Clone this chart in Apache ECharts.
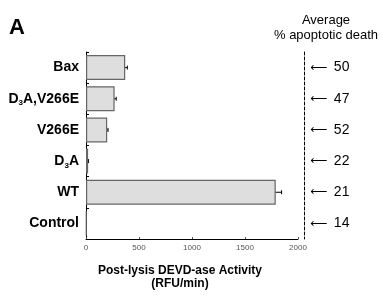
<!DOCTYPE html>
<html>
<head>
<meta charset="utf-8">
<script src="https://cdn.jsdelivr.net/npm/echarts@6/dist/echarts.min.js"></script>
<style>
  html, body { margin: 0; padding: 0; background: #fff; }
  #chart { width: 382px; height: 299px; }
</style>
</head>
<body>
<div id="chart"></div>
<script>
// data (top to bottom)
const groups = ["Bax", "D3A,V266E", "V266E", "D3A", "WT", "Control"];
const activity = [370, 270, 200, 20, 1790, 5];
const activityErr = [20, 15, 8, 3, 55, 0];
const apoptoticDeath = [50, 47, 52, 22, 21, 14];
const xTicks = [0, 500, 1000, 1500, 2000];

const chart = echarts.init(document.getElementById("chart"));

const options = {
    animation: false,
    title: {
        text: "A",
        left: 4, top: 12,
        textStyle: { fontFamily: "Liberation Sans", fontSize: 22, fontWeight: "bold", color: "#000" }
    },
    graphic: [
        {
            type: "text",
            x: 326, y: 13,
            style: {
                text: "Average\n% apoptotic death",
                align: "center",
                fontFamily: "Liberation Sans", fontSize: 13, lineHeight: 15, fill: "#000"
            }
        },
        {
            type: "text",
            x: 180, y: 264,
            style: {
                text: "Post-lysis DEVD-ase Activity\n(RFU/min)",
                align: "center",
                fontFamily: "Liberation Sans", fontSize: 12, fontWeight: "bold", lineHeight: 13, fill: "#000"
            }
        }
    ],
    grid: { left: 86, right: 84, top: 52, bottom: 60 },
    xAxis: {
        type: "value",
        min: xTicks[0], max: xTicks[xTicks.length - 1], interval: 500,
        axisLine: { show: true, lineStyle: { color: "#000", width: 1 } },
        axisTick: { show: true, inside: true, length: 2, lineStyle: { color: "#555" } },
        splitLine: { show: false },
        axisLabel: {
            fontFamily: "Liberation Sans", fontSize: 8, color: "#555", margin: 5,
            formatter: function (v) { return String(v); }
        }
    },
    yAxis: [
        {
            type: "category",
            data: groups,
            inverse: true,
            axisLine: { show: true, lineStyle: { color: "#000", width: 1 } },
            axisTick: { show: true, inside: true, length: 3, lineStyle: { color: "#000" } },
            axisLabel: {
                margin: 7,
                formatter: function (v) {
                    if (v === "D3A,V266E") return "{b|D}{s|3}{b|A,V266E}";
                    if (v === "D3A") return "{b|D}{s|3}{b|A}";
                    return "{b|" + v + "}";
                },
                rich: {
                    b: { fontFamily: "Liberation Sans", fontSize: 14, fontWeight: "bold", color: "#000" },
                    s: { fontFamily: "Liberation Sans", fontSize: 8, fontWeight: "bold", color: "#000", padding: [9, 0, 0, 0] }
                }
            }
        },
        {
            type: "category",
            data: apoptoticDeath.map(String),
            inverse: true,
            position: "right",
            offset: 6,
            axisLine: { show: true, lineStyle: { color: "#000", type: [3, 2], width: 1 } },
            axisTick: { show: false },
            axisLabel: {
                margin: 6,
                formatter: function (v) { return "{a|\u27F5}  {v|" + v + "}"; },
                rich: {
                    a: { fontFamily: "DejaVu Sans", fontSize: 12, color: "#000" },
                    v: { fontFamily: "Liberation Sans", fontSize: 14, color: "#000" }
                }
            }
        }
    ],
    series: [
        {
            type: "bar",
            data: activity,
            barWidth: "80%",
            itemStyle: { color: "#dedede", borderColor: "#666", borderWidth: 1.2 }
        },
        {
            type: "custom",
            data: activity.map(function (v, i) { return [v - activityErr[i], v + activityErr[i], i]; }),
            renderItem: function (params, api) {
                const lo = api.coord([api.value(0), api.value(2)]);
                const hi = api.coord([api.value(1), api.value(2)]);
                const c = { stroke: "#000", lineWidth: 1 };
                return {
                    type: "group",
                    children: [
                        { type: "line", shape: { x1: lo[0], y1: lo[1], x2: hi[0], y2: hi[1] }, style: c },
                        { type: "line", shape: { x1: lo[0], y1: lo[1] - 2, x2: lo[0], y2: lo[1] + 2 }, style: c },
                        { type: "line", shape: { x1: hi[0], y1: hi[1] - 2, x2: hi[0], y2: hi[1] + 2 }, style: c }
                    ]
                };
            }
        }
    ]
};

chart.setOption(options);
window.addEventListener("resize", () => chart.resize());
</script>
</body>
</html>
